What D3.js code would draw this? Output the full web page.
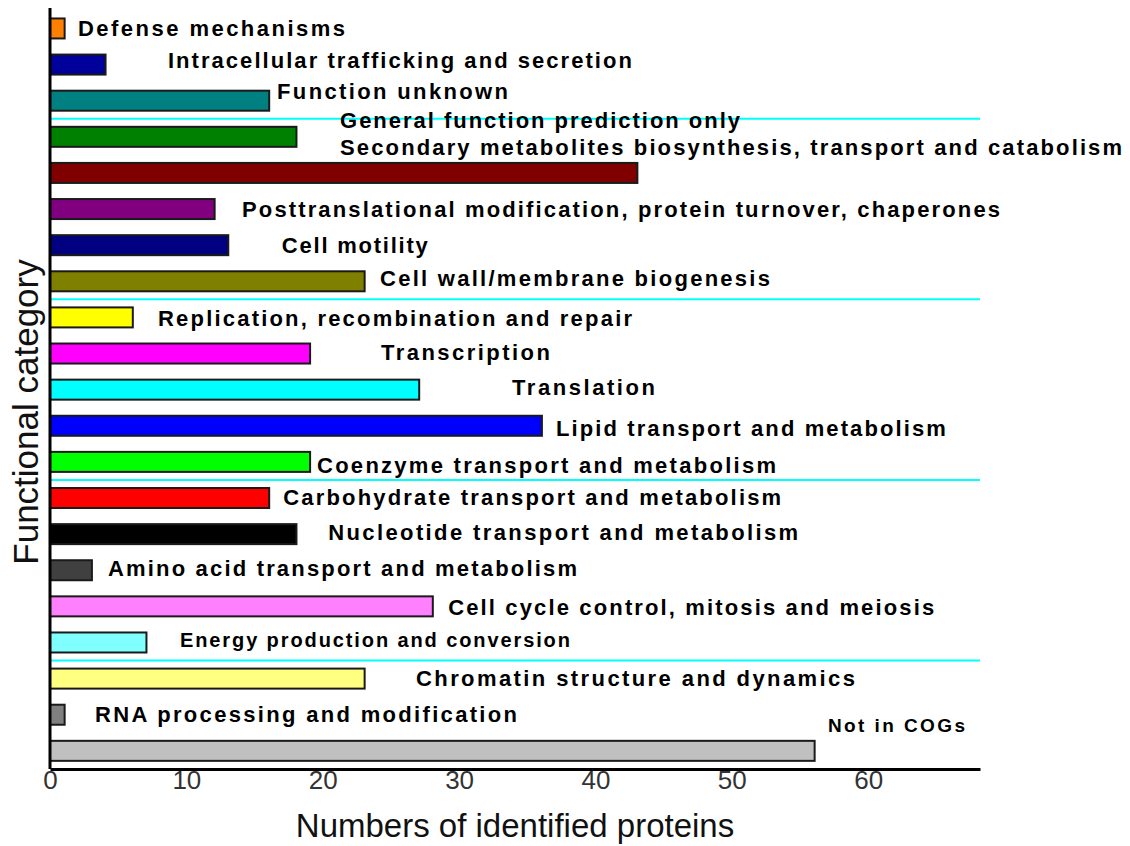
<!DOCTYPE html>
<html lang="en">
<head>
    <meta charset="UTF-8">
    <title>Functional category of identified proteins</title>
    <script type="text/javascript" src="https://cdn.jsdelivr.net/npm/d3@7/dist/d3.min.js"></script>
    <style>
        body { margin: 0; background: #fff; }
    </style>
</head>
<body>
    <script type="text/javascript">

        //Width and height
        var w = 1130;
        var h = 846;

        //categories, top to bottom
        var categories = [
            "Defense mechanisms",
            "Intracellular trafficking and secretion",
            "Function unknown",
            "General function prediction only",
            "Secondary metabolites biosynthesis, transport and catabolism",
            "Posttranslational modification, protein turnover, chaperones",
            "Cell motility",
            "Cell wall/membrane biogenesis",
            "Replication, recombination and repair",
            "Transcription",
            "Translation",
            "Lipid transport and metabolism",
            "Coenzyme transport and metabolism",
            "Carbohydrate transport and metabolism",
            "Nucleotide transport and metabolism",
            "Amino acid transport and metabolism",
            "Cell cycle control, mitosis and meiosis",
            "Energy production and conversion",
            "Chromatin structure and dynamics",
            "RNA processing and modification",
            "Not in COGs"
        ];

        //number of identified proteins
        var counts = [1, 4, 16, 18, 43, 12, 13, 23, 6, 19, 27, 36, 19, 16, 18, 3, 28, 7, 23, 1, 56];

        var barColors = [
            "#ff8000", "#00009a", "#008080", "#008000", "#800000", "#800080", "#000080",
            "#808000", "#ffff00", "#ff00ff", "#00ffff", "#0000ff", "#00ff00", "#ff0000",
            "#000000", "#404040", "#ff80ff", "#80ffff", "#ffff80", "#808080", "#c0c0c0"
        ];

        var xTicks = [0, 10, 20, 30, 40, 50, 60];

        //cyan separator lines sit above these rows
        var sepRows = [3, 8, 13, 18];

        //label placement: start (axis units), shift from bar centre (px), drawn width (px), font size
        var labelX = [2.05, 8.65, 16.65, 21.27, 21.27, 14.08, 17.0, 24.2, 7.92, 24.27, 33.88,
                      37.1, 19.58, 17.1, 20.4, 4.25, 29.2, 9.53, 26.84, 3.3, 57.05];
        var labelDy = [0, -4, -10, -17, -26, 0, 0, -3, 1, -1, -3, 2, 3, -1, -2, -2, 1, -3, -1, -1, -26];
        var labelW = [267, 464, 231, 400, 782, 758, 146, 390, 474, 169, 143,
                      390, 459, 498, 470, 469, 486, 390, 439, 422, 137];
        var labelSize = [22, 22, 22, 22, 22, 22, 22, 22, 22, 22, 22,
                         22, 22, 22, 22, 22, 22, 20, 22, 22, 19];

        //scales
        var xScale = d3.scaleLinear()
                        .domain([0, 68.2])
                        .range([50, 980]);

        var yScale = d3.scaleBand()
                        .domain(categories)
                        .range([10.4, 768.9])
                        .paddingInner(0.446)
                        .paddingOuter(0.223);

        var svg = d3.select("body")
                    .append("svg")
                    .attr("width", w)
                    .attr("height", h)
                    .style("font-family", "'Liberation Sans', Arial, sans-serif");

        svg.append("rect")
            .attr("width", w)
            .attr("height", h)
            .attr("fill", "#fff");

        //cyan lines between groups of rows
        var gap = yScale.step() * yScale.paddingInner() / 2;
        svg.selectAll("line.sep")
            .data(sepRows)
            .enter()
            .append("line")
            .attr("class", "sep")
            .attr("x1", xScale(0))
            .attr("x2", xScale.range()[1])
            .attr("y1", function(d) { return yScale(categories[d]) - gap; })
            .attr("y2", function(d) { return yScale(categories[d]) - gap; })
            .attr("stroke", "#00ffff")
            .attr("stroke-width", 2);

        //bars
        svg.selectAll("rect.bar")
            .data(counts)
            .enter()
            .append("rect")
            .attr("class", "bar")
            .attr("x", xScale(0))
            .attr("y", function(d, i) { return yScale(categories[i]); })
            .attr("width", function(d) { return xScale(d) - xScale(0) + 1; })
            .attr("height", yScale.bandwidth())
            .attr("fill", function(d, i) { return barColors[i]; })
            .attr("stroke", "#1a1a1a")
            .attr("stroke-width", 2);

        //category labels
        svg.selectAll("text.lab")
            .data(categories)
            .enter()
            .append("text")
            .attr("class", "lab")
            .attr("x", function(d, i) { return xScale(labelX[i]); })
            .attr("y", function(d, i) {
                return yScale(d) + yScale.bandwidth() / 2 + labelDy[i] + labelSize[i] * 0.36;
            })
            .attr("textLength", function(d, i) { return labelW[i]; })
            .attr("lengthAdjust", "spacing")
            .style("font-size", function(d, i) { return labelSize[i] + "px"; })
            .style("font-weight", "bold")
            .attr("fill", "#000")
            .text(function(d) { return d; });

        //x axis
        var xAxis = d3.axisBottom(xScale)
                        .tickValues(xTicks)
                        .tickSize(0)
                        .tickPadding(2);

        var gx = svg.append("g")
            .attr("transform", "translate(0," + yScale.range()[1] + ")")
            .call(xAxis);
        gx.select(".domain")
            .attr("stroke", "#000")
            .attr("stroke-width", 3);
        gx.selectAll("text")
            .style("font-size", "26px")
            .style("font-family", "'Liberation Sans', Arial, sans-serif")
            .attr("fill", "#333");

        //y axis
        var yAxis = d3.axisLeft(yScale)
                        .tickSize(0)
                        .tickFormat("");
        var gy = svg.append("g")
            .attr("transform", "translate(" + xScale(0) + ",0)")
            .call(yAxis);
        gy.select(".domain")
            .attr("d", "M0,8V" + yScale.range()[1])
            .attr("stroke", "#000")
            .attr("stroke-width", 3);

        //axis titles
        svg.append("text")
            .attr("x", 515)
            .attr("y", 837)
            .attr("text-anchor", "middle")
            .style("font-size", "33px")
            .attr("fill", "#111")
            .text("Numbers of identified proteins");

        svg.append("text")
            .attr("transform", "translate(38,412) rotate(-90)")
            .attr("text-anchor", "middle")
            .style("font-size", "35px")
            .attr("fill", "#111")
            .text("Functional category");

    </script>
</body>
</html>
